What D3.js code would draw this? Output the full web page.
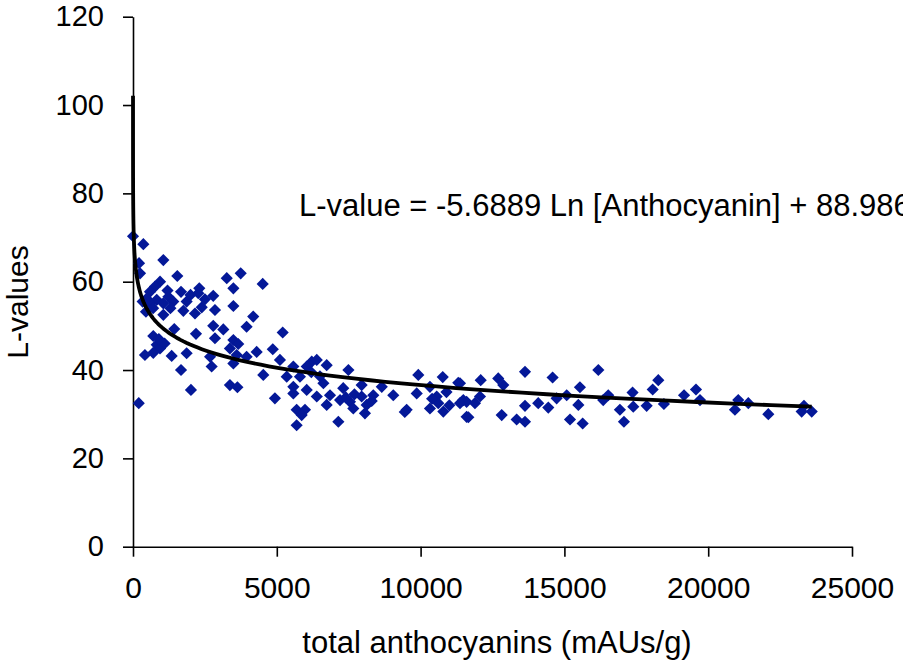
<!DOCTYPE html>
<html>
<head>
<meta charset="utf-8">
<script src="https://cdn.jsdelivr.net/npm/d3@7"></script>
<style>
  body { margin: 0; background: #fff; }
  svg { display: block; }
</style>
</head>
<body>
<script>

// total anthocyanins (mAUs/g) and L-value for each sample
const anthocyanin = [
    0, 360, 1055, 210, 245, 1540, 3260, 3745, 4510, 940, 765, 2305, 3490, 1670, 590, 2270, 2790, 1230, 475, 825,
    1400, 1865, 1055, 335, 3490, 2390, 2850, 1750, 2155, 450, 1055, 4180, 3950, 2790, 3140, 1435, 5205, 2190, 705, 2850,
    3490, 825, 3660, 940, 3370, 4860, 4300, 415, 705, 1345, 1865, 2680, 3605, 3950, 5110, 5575, 1670, 2735, 3490, 4530,
    5345, 3370, 3630, 2015, 4935, 5575, 200, 5690, 600, 700, 1200, 1300, 2500, 2000, 1100, 900,
    6215, 6390, 6735, 7490, 6040, 5805, 6620, 5575, 6040, 6390, 7310, 7950, 8650, 9050, 6850, 7200, 7545, 7950, 8355, 8125,
    5980, 6735, 7660, 8065, 5865, 7140, 5690, 9515, 9920, 9865, 10325, 10770, 11310, 10560, 10325, 10790, 10615, 11485, 11600,
    7400, 7700, 8300, 6500, 6200, 9450, 10400, 11000, 10900,
    11370, 12090, 12700, 13630, 14590, 16180, 12875, 15540, 16525, 17370, 18070, 18265, 11600, 11890, 12065, 13630, 14090, 14440, 14730, 15080,
    15485, 16350, 16930, 17395, 17860, 11660, 12820, 13340, 13630, 15195, 15635, 17070, 11370,
    18460, 19160, 19575, 19715, 20930, 21045, 21395, 22090, 23250, 23330, 23600
];
const lValues = [
    70.3, 68.5, 64.9, 64.2, 61.9, 61.3, 60.8, 61.9, 59.5, 60, 58.9, 58.5, 58.5, 57.7, 57.7, 57.4, 56.8, 56.6, 56.2, 55.9,
    55.5, 55.5, 55.1, 55.5, 54.5, 54.2, 53.6, 53.4, 52.8, 53.2, 52.5, 52.1, 49.8, 50, 49.2, 49.3, 48.5, 48.2, 47.7, 47.2,
    46.8, 45.7, 45.9, 44.9, 44.9, 44.7, 44.1, 43.4, 43.9, 43.2, 43.8, 43, 43.4, 43, 42.3, 40.8, 40, 40.8, 41.5, 38.9,
    38.5, 36.6, 36.1, 35.5, 33.6, 34.7, 32.5, 31, 55, 54, 58, 54, 56, 57, 46, 47,
    41.9, 42.3, 41.1, 40, 40.8, 38.5, 37, 36.2, 35.5, 34, 35.9, 36.6, 36.2, 34.3, 34.3, 33.2, 32.8, 34, 34.3, 32.1,
    31, 32.1, 31.3, 30.2, 29.8, 28.3, 27.5, 31, 38.9, 34.7, 36.2, 38.4, 37.1, 34, 31.3, 30.6, 32.5, 33.2, 29.4,
    33.8, 34.5, 33, 38.6, 39.5, 30.5, 33.5, 32, 35,
    37, 37.7, 38.1, 39.6, 38.3, 40, 36.6, 36.1, 34.3, 34.9, 35.6, 37.7, 32.8, 32.5, 34, 31.9, 32.5, 31.5, 33.6, 34.3,
    32.1, 33.2, 31, 31.7, 31.9, 29.3, 29.8, 28.8, 28.3, 28.8, 27.9, 28.3, 32.5,
    32.3, 34.3, 35.6, 33.2, 31, 33.2, 32.5, 30, 30.6, 31.9, 30.6
];

const xTicks = [0, 5000, 10000, 15000, 20000, 25000];
const yTicks = [0, 20, 40, 60, 80, 100, 120];

// logarithmic trendline shown on the chart
const trendSlope = -5.6889;
const trendIntercept = 88.986;
const trendRange = [0.1, 23600];
const equationLabel = 'L-value = -5.6889 Ln [Anthocyanin] + 88.986';

const xTitle = 'total anthocyanins (mAUs/g)';
const yTitle = 'L-values';

const width = 903;
const height = 664;
const font = '"Liberation Sans", Arial, sans-serif';
const markerColor = '#041898';

const xScale = d3.scaleLinear()
    .domain([0, 25000])
    .range([133, 852]);

const yScale = d3.scaleLinear()
    .domain([0, 120])
    .range([546.7, 16.7]);

let svg = d3.select('body')
    .append('svg')
        .attr('width', width)
        .attr('height', height)
        .style('font-family', font);

// y axis
let yAxis = svg.append('g')
    .attr('transform', `translate(${xScale(0)},0)`)
    .call(d3.axisLeft(yScale).tickValues(yTicks).tickSize(10).tickSizeOuter(0).tickPadding(19));

// x axis
let xAxis = svg.append('g')
    .attr('transform', `translate(0,${yScale(0)})`)
    .call(d3.axisBottom(xScale).tickValues(xTicks).tickFormat(d3.format('d'))
        .tickSize(10).tickSizeOuter(0).tickPadding(20));

[xAxis, yAxis].forEach(function(ax){
    ax.attr('font-family', font);
    ax.selectAll('path, line').attr('stroke', '#000').attr('stroke-width', 1.6);
    ax.selectAll('text').attr('fill', '#000');
});
yAxis.selectAll('text').attr('font-size', 29);
xAxis.selectAll('text').attr('font-size', 30);

// markers
const points = anthocyanin.map((x, i) => ({x: x, y: lValues[i]}));
const diamond = d3.symbol().type(d3.symbolSquare).size(74);

svg.append('g')
    .selectAll('path')
    .data(points)
    .enter()
        .append('path')
            .attr('d', diamond)
            .attr('transform', (d) => `translate(${xScale(d.x)},${yScale(d.y)}) rotate(45)`)
            .attr('fill', markerColor);

// trendline
const trendX = d3.range(0, 201).map((i) => trendRange[0] * Math.pow(trendRange[1] / trendRange[0], i / 200));
const trendLine = d3.line()
    .x((x) => xScale(x))
    .y((x) => yScale(trendSlope * Math.log(x) + trendIntercept));

svg.append('path')
    .datum(trendX)
    .attr('d', trendLine)
    .attr('fill', 'none')
    .attr('stroke', '#000')
    .attr('stroke-width', 3.8)
    .attr('stroke-linejoin', 'round');

// equation
svg.append('text')
    .attr('x', 299)
    .attr('y', 216)
    .attr('font-size', 31)
    .attr('fill', '#000')
    .text(equationLabel);

// axis titles
svg.append('text')
    .attr('x', 497)
    .attr('y', 653)
    .attr('text-anchor', 'middle')
    .attr('font-size', 31)
    .text(xTitle);

svg.append('text')
    .attr('transform', 'translate(28,302) rotate(-90)')
    .attr('text-anchor', 'middle')
    .attr('font-size', 30)
    .text(yTitle);

</script>
</body>
</html>
